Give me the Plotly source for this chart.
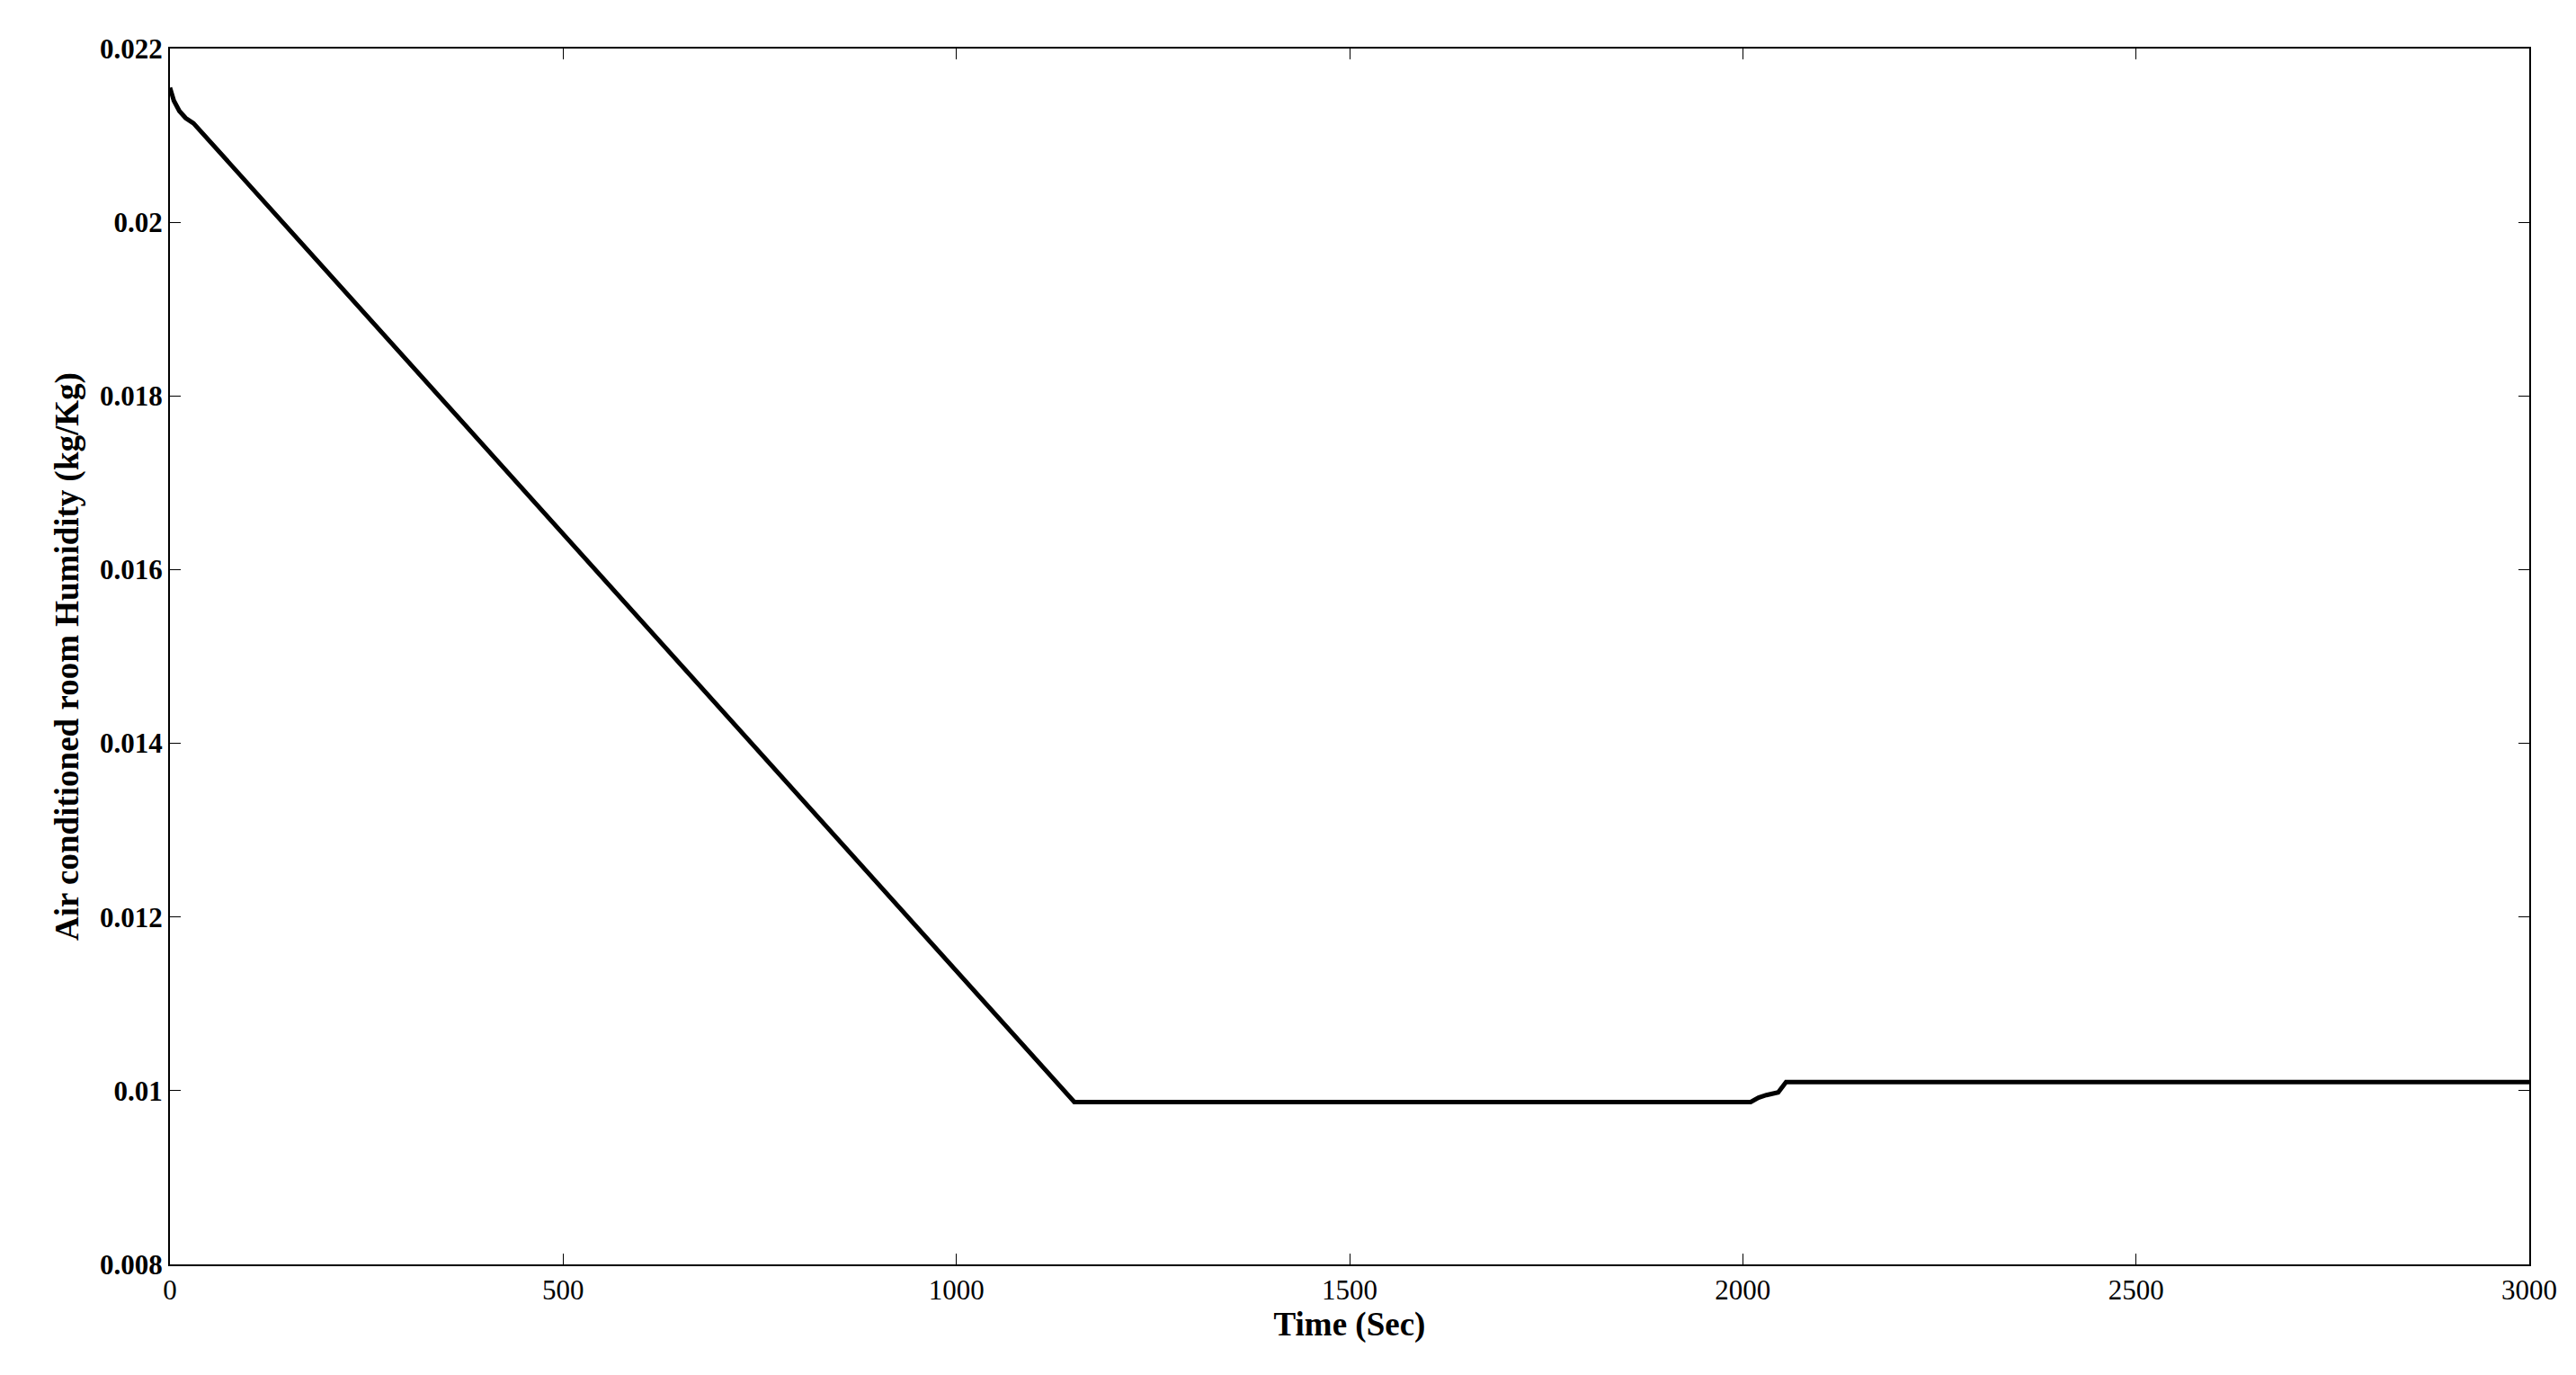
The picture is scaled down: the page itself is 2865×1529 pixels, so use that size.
import plotly.graph_objects as go

time_s = [0, 5, 12, 20, 30, 1150, 2010, 2020, 2030, 2045, 2055, 3000]
humidity = [0.02155, 0.0214, 0.02128, 0.0212, 0.02114, 0.00987, 0.00987, 0.00992, 0.00995, 0.00998, 0.0101, 0.0101]
x_ticks = [0, 500, 1000, 1500, 2000, 2500, 3000]
y_ticks = [0.008, 0.01, 0.012, 0.014, 0.016, 0.018, 0.02, 0.022]
y_labels = ["0.008", "0.01", "0.012", "0.014", "0.016", "0.018", "0.02", "0.022"]

font = dict(family="Liberation Serif", size=31, color="black")
fig = go.Figure(go.Scatter(x=time_s, y=humidity, mode="lines",
                           line=dict(color="black", width=5)))
axis = dict(showgrid=False, zeroline=False, showline=True, linecolor="black", linewidth=2,
            mirror="ticks", ticks="inside", ticklen=12, tickcolor="black",
            tickfont=dict(family="Liberation Serif", size=31, color="black"))
fig.update_layout(
    width=2865, height=1529, plot_bgcolor="white", paper_bgcolor="white",
    margin=dict(l=181, r=60, t=46, b=131), showlegend=False, font=font,
    xaxis=dict(range=[0, 3000], tickvals=x_ticks, title=dict(text="<b>Time (Sec)</b>", font=dict(size=37), standoff=6), **axis),
    yaxis=dict(range=[0.008, 0.022], tickvals=y_ticks, ticktext=y_labels,
               title=dict(text="<b>Air conditioned room Humidity (kg/Kg)</b>", font=dict(size=37), standoff=12), **axis),
)
fig.update_xaxes(tickprefix="<b>", ticksuffix="</b>")
fig.update_yaxes(ticktext=["<b>%s</b>" % t for t in y_labels])
fig.write_html("out.html")
